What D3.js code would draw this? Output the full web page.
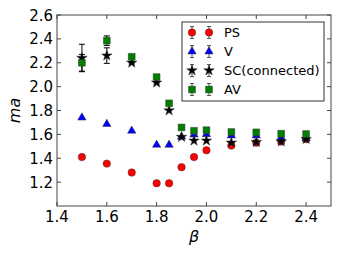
<!DOCTYPE html>
<html>
<head>
<meta charset="utf-8">
<script src="https://cdn.jsdelivr.net/npm/d3@7"></script>
<style>
  body { margin: 0; background: #fff; }
  text { font-family: "DejaVu Sans", sans-serif; }
</style>
</head>
<body>
<div id="chart"></div>
<script>
// beta values shared by all series
const beta = [1.5, 1.6, 1.7, 1.8, 1.85, 1.9, 1.95, 2.0, 2.1, 2.2, 2.3, 2.4];

const psMass = [1.41, 1.355, 1.28, 1.19, 1.19, 1.325, 1.41, 1.467, 1.506, 1.53, 1.54, 1.56];
const vMass  = [1.74, 1.687, 1.63, 1.512, 1.512, 1.58, 1.598, 1.60, 1.59, 1.59, 1.575, 1.565];
const scMass = [2.24, 2.26, 2.20, 2.033, 1.80, 1.578, 1.547, 1.547, 1.53, 1.535, 1.54, 1.56];
const avMass = [2.20, 2.385, 2.25, 2.08, 1.86, 1.658, 1.63, 1.635, 1.62, 1.617, 1.606, 1.603];

const psErr = [0, 0, 0, 0, 0, 0, 0, 0, 0, 0, 0, 0];
const vErr  = [0, 0, 0, 0, 0, 0, 0, 0, 0, 0, 0, 0];
const scErr = [0.115, 0.065, 0.01, 0.01, 0, 0, 0, 0, 0, 0, 0, 0];
const avErr = [0.07, 0.04, 0.01, 0.01, 0, 0, 0, 0, 0, 0, 0, 0];

const xTicks = [1.4, 1.6, 1.8, 2.0, 2.2, 2.4];
const yTicks = [1.2, 1.4, 1.6, 1.8, 2.0, 2.2, 2.4, 2.6];

const seriesNames = ["PS", "V", "SC(connected)", "AV"];

const width = 338, height = 254;
const margin = {top: 15, right: 7, bottom: 48, left: 57};

const svg = d3.select("#chart").append("svg")
    .attr("width", width)
    .attr("height", height);

const x = d3.scaleLinear().domain([1.4, 2.5]).range([margin.left, width - margin.right]);
const y = d3.scaleLinear().domain([1.0, 2.6]).range([height - margin.bottom, margin.top]);

const series = [
    {name: seriesNames[0], vals: psMass, err: psErr, color: "#ff0000", shape: d3.symbolCircle, size: 44},
    {name: seriesNames[1], vals: vMass, err: vErr, color: "#0000ff", shape: d3.symbolTriangle, size: 30},
    {name: seriesNames[2], vals: scMass, err: scErr, color: "#000000", shape: d3.symbolStar, size: 34},
    {name: seriesNames[3], vals: avMass, err: avErr, color: "#008000", shape: d3.symbolSquare, size: 46}
];

// frame
const x0 = x.range()[0], x1 = x.range()[1];
const y0 = y.range()[0], y1 = y.range()[1];
svg.append("rect")
    .attr("x", x0).attr("y", y1)
    .attr("width", x1 - x0).attr("height", y0 - y1)
    .attr("fill", "none")
    .attr("stroke", "#444")
    .attr("stroke-width", 1);

// inward ticks on all sides
const tickLen = 4;
xTicks.forEach(t => {
    svg.append("line").attr("x1", x(t)).attr("x2", x(t)).attr("y1", y0).attr("y2", y0 - tickLen).attr("stroke", "#444");
    svg.append("line").attr("x1", x(t)).attr("x2", x(t)).attr("y1", y1).attr("y2", y1 + tickLen).attr("stroke", "#444");
    svg.append("text")
        .attr("x", x(t)).attr("y", y0 + 15.5)
        .attr("text-anchor", "middle")
        .attr("font-size", 15)
        .text(t.toFixed(1));
});
yTicks.forEach(t => {
    svg.append("line").attr("x1", x0).attr("x2", x0 + tickLen).attr("y1", y(t)).attr("y2", y(t)).attr("stroke", "#444");
    svg.append("line").attr("x1", x1).attr("x2", x1 - tickLen).attr("y1", y(t)).attr("y2", y(t)).attr("stroke", "#444");
    svg.append("text")
        .attr("x", x0 - 4).attr("y", y(t) + 5.5)
        .attr("text-anchor", "end")
        .attr("font-size", 15)
        .text(t.toFixed(1));
});

// axis labels
svg.append("text")
    .attr("x", x(1.95)).attr("y", 242)
    .attr("text-anchor", "middle")
    .attr("font-size", 16)
    .attr("font-style", "italic")
    .text("β");
svg.append("text")
    .attr("transform", `translate(20,${(y0 + y1) / 2}) rotate(-90)`)
    .attr("text-anchor", "middle")
    .attr("font-size", 16)
    .attr("font-style", "italic")
    .text("ma");

// points with error bars
series.forEach(s => {
    const g = svg.append("g");
    beta.forEach((b, i) => {
        const e = s.err[i];
        if (e > 0) {
            g.append("line")
                .attr("x1", x(b)).attr("x2", x(b))
                .attr("y1", y(s.vals[i] - e)).attr("y2", y(s.vals[i] + e))
                .attr("stroke", "#000").attr("stroke-width", 1);
            [s.vals[i] - e, s.vals[i] + e].forEach(v => {
                g.append("line")
                    .attr("x1", x(b) - 3).attr("x2", x(b) + 3)
                    .attr("y1", y(v)).attr("y2", y(v))
                    .attr("stroke", "#000").attr("stroke-width", 1);
            });
        }
        g.append("path")
            .attr("d", d3.symbol().type(s.shape).size(s.size)())
            .attr("transform", `translate(${x(b)},${y(s.vals[i])})`)
            .attr("fill", s.color)
            .attr("stroke", "#333")
            .attr("stroke-width", 0.5);
    });
});

// legend
const lg = svg.append("g");
lg.append("rect")
    .attr("x", 182).attr("y", 22)
    .attr("width", 142).attr("height", 79)
    .attr("fill", "#fff")
    .attr("stroke", "#333")
    .attr("stroke-width", 1);
series.forEach((s, i) => {
    const cy = 32.5 + i * 19;
    [192, 209].forEach(cx => {
        lg.append("line").attr("x1", cx).attr("x2", cx).attr("y1", cy - 6).attr("y2", cy + 6).attr("stroke", "#555");
        lg.append("line").attr("x1", cx - 2).attr("x2", cx + 2).attr("y1", cy - 6).attr("y2", cy - 6).attr("stroke", "#555");
        lg.append("line").attr("x1", cx - 2).attr("x2", cx + 2).attr("y1", cy + 6).attr("y2", cy + 6).attr("stroke", "#555");
        lg.append("path")
            .attr("d", d3.symbol().type(s.shape).size(s.size)())
            .attr("transform", `translate(${cx},${cy})`)
            .attr("fill", s.color)
            .attr("stroke", "#333")
            .attr("stroke-width", 0.5);
    });
    lg.append("text")
        .attr("x", 224).attr("y", cy + 4.5)
        .attr("font-size", 13)
        .text(s.name);
});
</script>
</body>
</html>
